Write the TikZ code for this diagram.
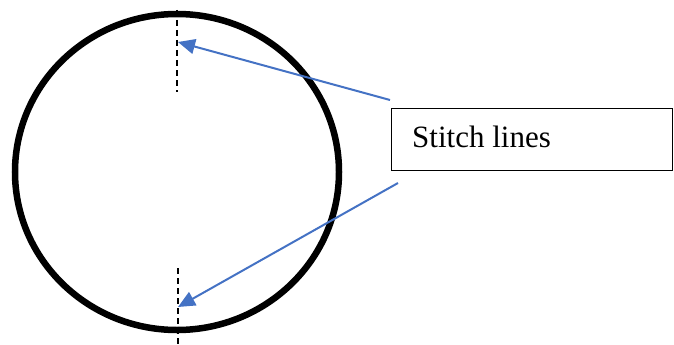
\documentclass[tikz,border=0pt]{standalone}
\usepackage{fontspec}
\setmainfont{Liberation Serif}
\usetikzlibrary{arrows.meta}
\definecolor{arrowblue}{HTML}{4472C4}
\begin{document}
\begin{tikzpicture}[x=1pt,y=-1pt,
  ring/.style={line width=6.5pt,black},
  stitchline/.style={line width=1.7pt,black,dash pattern=on 6pt off 4pt},
  pointer/.style={line width=2pt,arrowblue,-{Triangle[length=17pt,width=15pt]}},
  labelbox/.style={draw,line width=1pt,minimum width=281pt,minimum height=62pt,anchor=north west,inner sep=0pt}]
\useasboundingbox (0,0) rectangle (674,345);
\draw[ring] (177,172) ellipse [x radius=162, y radius=158];
\draw[stitchline] (177,10) -- (177,92);
\draw[stitchline] (178,268) -- (178,344);
\node[labelbox] (box) at (391,108) {};
\node[anchor=base west,font=\fontsize{31}{36}\selectfont,inner sep=0pt] (txt) at (412,147) {Stitch lines};
\coordinate (s1) at (390,100);
\coordinate (s2) at (398,183);
\coordinate (t1) at (178,42);
\coordinate (t2) at (178,307);
\draw[pointer] (s1) -- (t1);
\draw[pointer] (s2) -- (t2);
\end{tikzpicture}
\end{document}
